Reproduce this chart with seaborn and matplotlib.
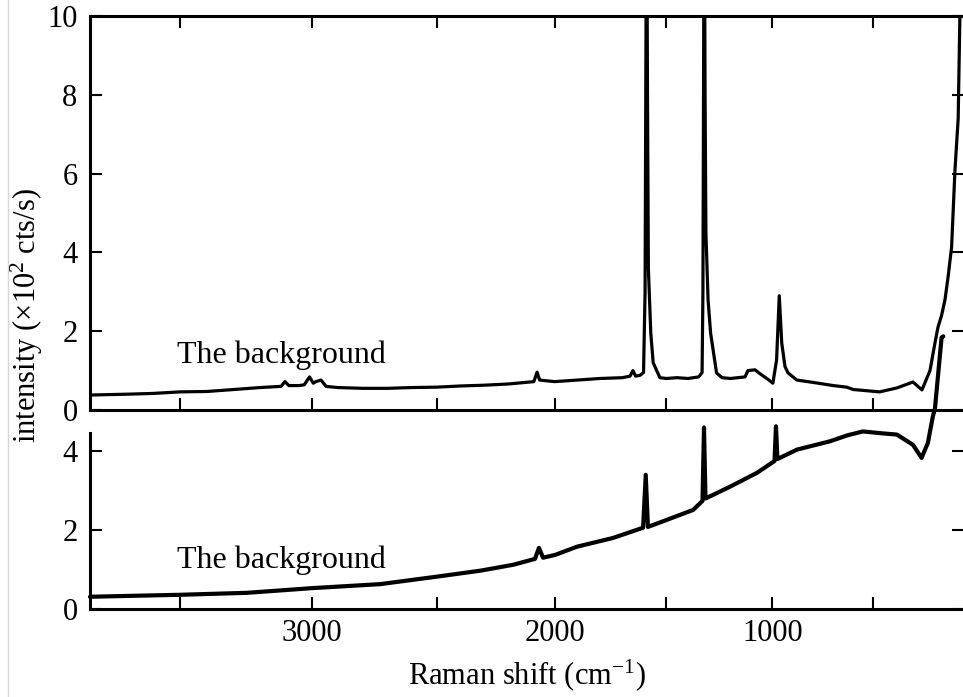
import numpy as np
import pandas as pd
import matplotlib
matplotlib.use("Agg")
import matplotlib.pyplot as plt
import seaborn as sns
from matplotlib.lines import Line2D

# ---------------- data ----------------
top_shift = [3825, 3700, 3600, 3500, 3400, 3300, 3200, 3120, 3105, 3090, 3050, 3030,
             3010, 2995, 2985, 2965, 2945, 2900, 2800, 2700, 2600, 2500, 2400, 2300,
             2200, 2090, 2076, 2065, 2000, 1900, 1800, 1700, 1665, 1652, 1640, 1620,
             1604, 1597, 1590, 1586, 1582, 1571, 1560, 1544, 1529, 1500, 1450, 1400,
             1350, 1334, 1330, 1324, 1320, 1316, 1306, 1294, 1266, 1240, 1200, 1131,
             1117, 1083, 1059, 1021, 997, 979, 966, 954, 938, 923, 880, 800, 700, 633,
             600, 466, 377, 294, 247, 205, 179, 163, 144, 126, 109, 91, 73, 56, 47, 40]
top_int = [0.38, 0.40, 0.42, 0.46, 0.47, 0.52, 0.57, 0.60, 0.72, 0.62, 0.62, 0.64,
           0.84, 0.68, 0.72, 0.76, 0.60, 0.57, 0.55, 0.55, 0.57, 0.58, 0.61, 0.63,
           0.66, 0.72, 0.96, 0.76, 0.72, 0.76, 0.80, 0.82, 0.86, 1.00, 0.86, 0.88,
           0.95, 3.0, 14.0, 8.0, 3.6, 1.95, 1.2, 1.0, 0.82, 0.80, 0.82, 0.80,
           0.84, 0.95, 3.0, 14.0, 8.0, 4.5, 2.8, 1.95, 0.94, 0.82, 0.80, 0.84,
           1.00, 1.02, 0.92, 0.78, 0.68, 1.27, 2.9, 1.7, 1.1, 0.94, 0.76, 0.70, 0.62, 0.58,
           0.52, 0.46, 0.56, 0.71, 0.51, 1.0, 1.7, 2.1, 2.4, 2.8, 3.4, 4.14, 6.1, 7.4, 10.0, 12.0]

bot_shift = [3825, 3700, 3500, 3250, 2997, 2730, 2499, 2319, 2179, 2085, 2068, 2050,
             1998, 1901, 1742, 1606, 1594, 1584, 1497, 1376, 1332, 1325, 1318, 1202,
             1074, 989, 982, 975, 879, 716, 630, 551, 450, 377, 294, 249, 216, 190,
             179, 144, 135]
bot_int = [0.31, 0.33, 0.36, 0.41, 0.53, 0.63, 0.82, 0.97, 1.12, 1.27, 1.55, 1.30,
           1.37, 1.58, 1.80, 2.06, 3.40, 2.08, 2.26, 2.51, 2.74, 4.60, 2.80, 3.10,
           3.45, 3.75, 4.63, 3.80, 4.04, 4.25, 4.40, 4.50, 4.45, 4.42, 4.16, 3.83, 4.21, 4.88,
           5.08, 6.88, 6.91]

x_ticks = [3500, 3000, 2500, 2000, 1500, 1000, 500]
x_ticklabels = ["", "3000", "", "2000", "", "1000", ""]
top_yticks = [0, 2, 4, 6, 8, 10]
bot_yticks = [0, 2, 4]
label_text = "The background"

# ---------------- style ----------------
sns.set_theme(style="ticks")
plt.rcParams["font.family"] = ["Liberation Serif", "DejaVu Serif"]
plt.rcParams["mathtext.fontset"] = "custom"
plt.rcParams["mathtext.rm"] = "Liberation Serif"
plt.rcParams["mathtext.it"] = "Liberation Serif:italic"
plt.rcParams["mathtext.bf"] = "Liberation Serif:bold"
for key in ("text.color", "axes.labelcolor", "xtick.color", "ytick.color",
            "axes.edgecolor"):
    plt.rcParams[key] = "black"

# spectrometer axis: linear in wavelength (488 nm excitation)
K = 20492.0


def fwd(v):
    v = np.asarray(v, dtype=float)
    return 1e7 / (K - v)


def inv(lam):
    lam = np.asarray(lam, dtype=float)
    with np.errstate(divide="ignore"):
        return K - 1e7 / lam


W_PX, H_PX = 963, 697
fig = plt.figure(figsize=(W_PX / 100, H_PX / 100), dpi=100)
left = 90 / W_PX
right = 964 / W_PX
ax1 = fig.add_axes([left, 1 - 410 / H_PX, right - left, (410 - 16) / H_PX])
ax2 = fig.add_axes([left, 1 - 609 / H_PX, right - left, (609 - 433) / H_PX])

top_df = pd.DataFrame({"shift": top_shift, "intensity": top_int})
bot_df = pd.DataFrame({"shift": bot_shift, "intensity": bot_int})

for ax in (ax1, ax2):
    ax.set_xscale("function", functions=(fwd, inv))

sns.lineplot(data=top_df, x="shift", y="intensity", ax=ax1, color="black",
             lw=2.3, estimator=None, sort=False)
sns.lineplot(data=bot_df, x="shift", y="intensity", ax=ax2, color="black",
             lw=3.0, estimator=None, sort=False, clip_on=False)

for ax in (ax1, ax2):
    ax.set_xlim(3825, 25)
    ax.set_xticks(x_ticks)
    ax.set_xticklabels(x_ticklabels)
    ax.set_xlabel("")
    ax.set_ylabel("")
    for s in ax.spines.values():
        s.set_linewidth(2.2)
        s.set_color("black")
    ax.spines["right"].set_visible(False)
    ax.tick_params(axis="both", which="major", direction="in", length=8.5, width=1.5,
                   color="black", labelsize=22, labelcolor="black")
    ax.minorticks_off()

ax1.set_ylim(0, 10)
ax1.set_yticks(top_yticks)
ax1.tick_params(axis="x", top=True, bottom=True, labelbottom=False)
ax1.tick_params(axis="y", left=True, right=True, pad=9)

ax2.set_ylim(0, 4.46)
ax2.set_yticks(bot_yticks)
ax2.spines["top"].set_visible(False)
ax2.tick_params(axis="x", top=False, bottom=True, labelbottom=True, pad=7)
ax2.tick_params(axis="y", left=True, right=True, pad=9)

ax2.set_xlabel("Raman shift (cm$^{-1}$)", fontsize=22, labelpad=7)

fig.text(27 / W_PX, 1 - 316 / H_PX, "intensity (×10$^{2}$ cts/s)", rotation=90,
         ha="center", va="center", fontsize=22)

ax1.text(3511, 1.19, label_text, fontsize=23, ha="left", va="baseline")
ax2.text(3511, 1.04, label_text, fontsize=23, ha="left", va="baseline")

fig.add_artist(Line2D([8 / W_PX, 8 / W_PX], [0, 1], transform=fig.transFigure,
                      color="#d8d8d8", lw=1))

fig.savefig("out.png", dpi=100)
